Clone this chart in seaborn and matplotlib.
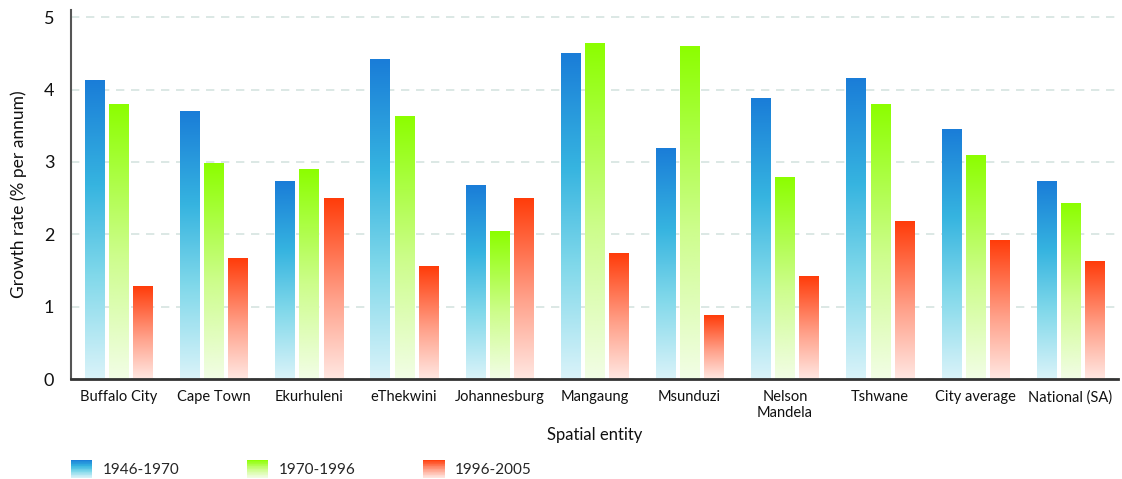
import numpy as np
import pandas as pd
import matplotlib
matplotlib.use("Agg")
import matplotlib.pyplot as plt
import seaborn as sns
from matplotlib.colors import LinearSegmentedColormap
from matplotlib.patches import Rectangle, Patch
from matplotlib.legend_handler import HandlerBase

categories = ["Buffalo City", "Cape Town", "Ekurhuleni", "eThekwini", "Johannesburg",
              "Mangaung", "Msunduzi", "Nelson\nMandela", "Tshwane", "City average",
              "National (SA)"]
periods = ["1946-1970", "1970-1996", "1996-2005"]
growth_1946_1970 = [4.12, 3.70, 2.73, 4.42, 2.67, 4.50, 3.19, 3.87, 4.16, 3.45, 2.73]
growth_1970_1996 = [3.80, 2.98, 2.90, 3.63, 2.04, 4.64, 4.60, 2.79, 3.80, 3.09, 2.43]
growth_1996_2005 = [1.28, 1.66, 2.50, 1.56, 2.50, 1.74, 0.88, 1.41, 2.17, 1.92, 1.62]

sns.set_style("white")
plt.rcParams["font.family"] = ["Lato", "DejaVu Sans"]

df = pd.DataFrame({
    "entity": categories * 3,
    "period": [periods[0]] * 11 + [periods[1]] * 11 + [periods[2]] * 11,
    "rate": growth_1946_1970 + growth_1970_1996 + growth_1996_2005,
})

cmaps = [
    LinearSegmentedColormap.from_list("b", [(0, "#daf3f9"), (0.35, "#80d8ea"), (0.65, "#36b4e0"), (1, "#1a7dd8")]),
    LinearSegmentedColormap.from_list("g", [(0, "#f2fde6"), (0.45, "#cdfd8c"), (1, "#8cff00")]),
    LinearSegmentedColormap.from_list("r", [(0, "#ffe7e2"), (0.45, "#ffa089"), (1, "#ff3c0a")]),
]

fig = plt.figure(figsize=(11.22, 4.79), dpi=100)
ax = fig.add_axes([71 / 1122, 1 - 379 / 479, (1118 - 71) / 1122, (379 - 10) / 479])

sns.barplot(data=df, x="entity", y="rate", hue="period", order=categories,
            hue_order=periods, width=0.76, gap=0.21, ax=ax, legend=False,
            palette=["#1a7dd8", "#8cff00", "#ff3c0a"], errorbar=None)

grad = np.linspace(0, 1, 256).reshape(-1, 1)
for cont, cmap in zip(ax.containers, cmaps):
    for p in cont:
        x, w, h = p.get_x(), p.get_width(), p.get_height()
        p.set_facecolor("none")
        p.set_edgecolor("none")
        ax.imshow(grad, cmap=cmap, origin="lower", aspect="auto",
                  extent=[x, x + w, 0, h], zorder=2, interpolation="bilinear")

ax.set_xlim(-0.5, 10.5)
ax.set_ylim(0, 5.1)
ax.set_yticks([0, 1, 2, 3, 4, 5])
ax.set_axisbelow(True)
ax.yaxis.grid(True, linestyle=(0, (5, 4)), color="#d6e4e0", linewidth=1.2)
ax.xaxis.grid(False)
for s in ["top", "right"]:
    ax.spines[s].set_visible(False)
ax.spines["left"].set_color("#555555")
ax.spines["left"].set_linewidth(1.5)
ax.spines["bottom"].set_color("#333333")
ax.spines["bottom"].set_linewidth(2)
ax.spines["left"].set_zorder(3)
ax.spines["bottom"].set_zorder(3)
ax.tick_params(axis="both", length=0)
ax.tick_params(axis="x", labelsize=10.5, pad=8, labelcolor="#111111")
ax.tick_params(axis="y", labelsize=13, pad=12, labelcolor="#111111")
ax.set_xlabel("Spatial entity", fontsize=12, labelpad=5, color="#111111")
ax.set_ylabel("Growth rate (% per annum)", fontsize=12.5, labelpad=12, color="#111111")


class GradHandler(HandlerBase):
    def __init__(self, cmap):
        super().__init__()
        self.cmap = cmap

    def create_artists(self, legend, orig_handle, xdescent, ydescent, width, height, fontsize, trans):
        n = 24
        arts = []
        for i in range(n):
            arts.append(Rectangle((-xdescent, -ydescent + height * i / n), width, height / n * 1.05,
                                  facecolor=self.cmap((i + 0.5) / n), edgecolor="none", transform=trans))
        return arts


handles = [Patch(label=lab) for lab in periods]
fig.legend(handles=handles, labels=periods, loc="lower left",
           bbox_to_anchor=(71 / 1122, 1.5 / 479), ncol=3, frameon=False,
           borderpad=0, borderaxespad=0, handlelength=1.4, handleheight=1.4,
           handletextpad=0.65, columnspacing=4.45, fontsize=11,
           handler_map={h: GradHandler(c) for h, c in zip(handles, cmaps)})

fig.savefig("out.png", dpi=100)
